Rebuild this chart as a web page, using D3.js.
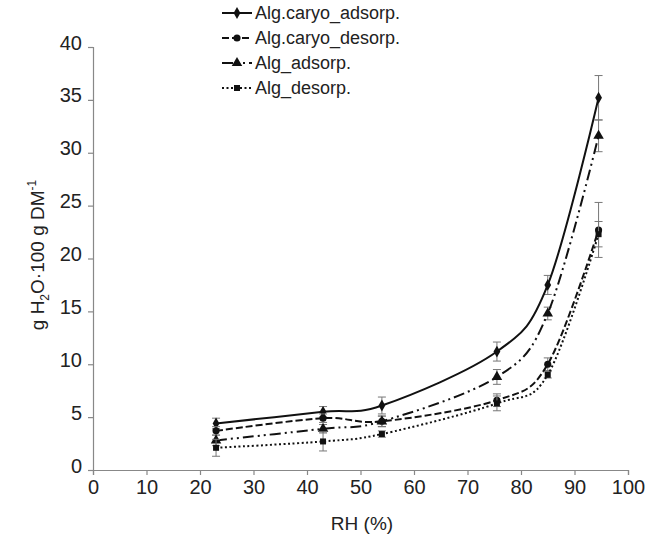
<!DOCTYPE html>
<html>
<head>
<meta charset="utf-8">
<script src="https://cdn.jsdelivr.net/npm/d3@7"></script>
<style>
  body { margin: 0; background: #fff; }
  text { font-family: "Liberation Sans", Arial, sans-serif; fill: #222; }
</style>
</head>
<body>
<svg id="chart" width="659" height="545"></svg>
<script>
// RH (%)
const rh = [23, 43, 54, 75.5, 85, 94.5];

// g H2O / 100 g DM
const caryoAds = [4.4, 5.5, 6.1, 11.2, 17.5, 35.2];
const caryoAdsErr = [0.5, 0.5, 0.8, 0.9, 0.9, 2.1];
const caryoDes = [3.7, 4.9, 4.6, 6.6, 10.0, 22.7];
const caryoDesErr = [0.4, 0.4, 0.5, 0.6, 0.6, 2.6];
const algAds = [2.8, 3.9, 4.6, 8.8, 14.8, 31.6];
const algAdsErr = [0.5, 0.4, 0.5, 0.7, 0.6, 1.5];
const algDes = [2.1, 2.7, 3.4, 6.3, 9.0, 22.3];
const algDesErr = [0.8, 0.9, 0.3, 0.7, 0.3, 1.2];

const seriesNames = ["Alg.caryo_adsorp.", "Alg.caryo_desorp.", "Alg_adsorp.", "Alg_desorp."];
const xTicks = [0, 10, 20, 30, 40, 50, 60, 70, 80, 90, 100];
const yTicks = [0, 5, 10, 15, 20, 25, 30, 35, 40];

const series = [
  { name: seriesNames[0], values: caryoAds, err: caryoAdsErr, dash: null, marker: d3.symbolDiamond, size: 40 },
  { name: seriesNames[1], values: caryoDes, err: caryoDesErr, dash: "7,3", marker: d3.symbolCircle, size: 40 },
  { name: seriesNames[2], values: algAds, err: algAdsErr, dash: "11,4,2,4,2,4", marker: d3.symbolTriangle, size: 48 },
  { name: seriesNames[3], values: algDes, err: algDesErr, dash: "2,2.5", marker: d3.symbolSquare, size: 36 }
];

const svg = d3.select("#chart");
const x = d3.scaleLinear().domain([0, 100]).range([93, 628]);
const y = d3.scaleLinear().domain([0, 40]).range([470, 47]);

// axes
const xAxis = svg.append("g")
  .attr("transform", `translate(0,${y(0)})`)
  .call(d3.axisBottom(x).tickValues(xTicks).tickSize(5).tickPadding(5));
const yAxis = svg.append("g")
  .attr("transform", `translate(${x(0)},0)`)
  .call(d3.axisLeft(y).tickValues(yTicks).tickSize(5).tickPadding(6));

[xAxis, yAxis].forEach((a) => {
  a.select(".domain").attr("stroke", "#888").attr("stroke-width", 1.2);
  a.selectAll(".tick line").attr("stroke", "#888").attr("stroke-width", 1.2);
  a.selectAll(".tick text").style("font-size", "20px").attr("fill", "#222");
});
yAxis.selectAll(".tick text").attr("dy", "0.1em");

// axis titles
svg.append("text")
  .attr("x", 362).attr("y", 530)
  .attr("text-anchor", "middle")
  .style("font-size", "19px")
  .text("RH (%)");

const yTitle = svg.append("text")
  .attr("transform", "translate(44,255) rotate(-90)")
  .attr("text-anchor", "middle")
  .style("font-size", "19px");
yTitle.append("tspan").text("g H");
yTitle.append("tspan").attr("dy", 5).style("font-size", "12px").text("2");
yTitle.append("tspan").attr("dy", -5).text("O·100 g DM");
yTitle.append("tspan").attr("dy", -8).style("font-size", "12px").text("-1");

// lines
const line = d3.line()
  .x((d, i) => x(rh[i]))
  .y((d) => y(d))
  .curve(d3.curveCatmullRom.alpha(0));

const plot = svg.append("g");

series.forEach((s) => {
  // error bars
  const eb = plot.append("g").attr("stroke", "#777").attr("stroke-width", 1);
  s.values.forEach((v, i) => {
    const cx = x(rh[i]);
    eb.append("line").attr("x1", cx).attr("x2", cx).attr("y1", y(v - s.err[i])).attr("y2", y(v + s.err[i]));
    eb.append("line").attr("x1", cx - 4).attr("x2", cx + 4).attr("y1", y(v - s.err[i])).attr("y2", y(v - s.err[i]));
    eb.append("line").attr("x1", cx - 4).attr("x2", cx + 4).attr("y1", y(v + s.err[i])).attr("y2", y(v + s.err[i]));
  });

  plot.append("path")
    .attr("d", line(s.values))
    .attr("fill", "none")
    .attr("stroke", "#111")
    .attr("stroke-width", 2)
    .attr("stroke-dasharray", s.dash);

  plot.selectAll(null)
    .data(s.values)
    .join("path")
    .attr("transform", (d, i) => `translate(${x(rh[i])},${y(d)})`)
    .attr("d", d3.symbol().type(s.marker).size(s.size))
    .attr("fill", "#111");
});

// legend
const legend = svg.append("g").attr("transform", "translate(222,13)");
series.forEach((s, i) => {
  const g = legend.append("g").attr("transform", `translate(0,${i * 25})`);
  g.append("line")
    .attr("x1", 0).attr("x2", 30)
    .attr("stroke", "#111").attr("stroke-width", 2)
    .attr("stroke-dasharray", s.dash);
  g.append("path")
    .attr("transform", "translate(15,0)")
    .attr("d", d3.symbol().type(s.marker).size(s.size))
    .attr("fill", "#111");
  g.append("text")
    .attr("x", 33).attr("dy", "0.35em")
    .style("font-size", "18px")
    .text(s.name);
});
</script>
</body>
</html>
